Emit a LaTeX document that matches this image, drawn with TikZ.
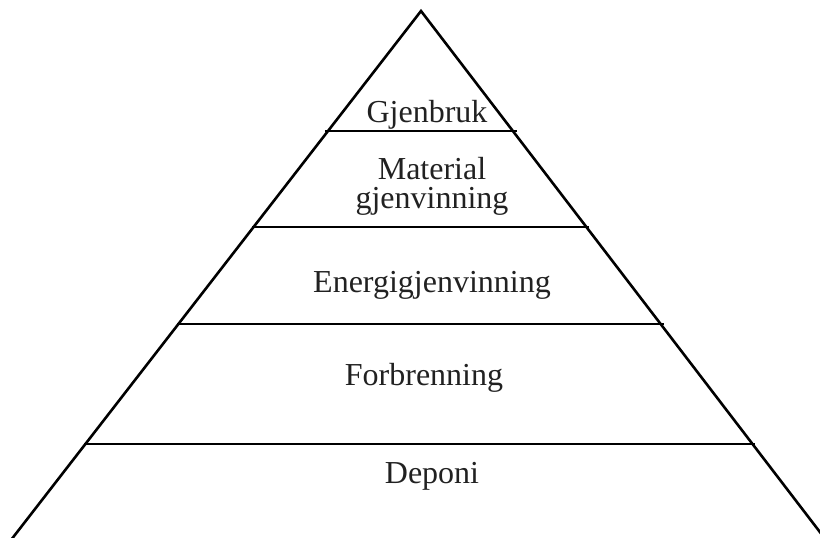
\documentclass[tikz,border=0pt]{standalone}
\usepackage{fontspec}
\setmainfont{Liberation Serif}
\begin{document}
\begin{tikzpicture}[x=1pt,y=-1pt,
  edge/.style={line width=2.6pt},
  tier/.style={line width=2.4pt},
  lbl/.style={anchor=base,font=\fontsize{32}{29}\selectfont,text=black!87,
    inner sep=0pt,text height=22pt,text depth=7pt}]
\useasboundingbox (0,0) rectangle (820,538);
\coordinate (apex) at (421,11);
\coordinate (bl) at (11,540);
\coordinate (br) at (826,540);
\draw[edge] (bl) -- (apex) -- (br);
\draw[tier] (325,131) -- (517,131);
\draw[tier] (252,227) -- (589,227);
\draw[tier] (177,324) -- (664,324);
\draw[tier] (84,444) -- (755,444);
\node[lbl] (gjenbruk) at (427,122) {Gjenbruk};
\node[lbl] (mat) at (432,179) {Material};
\node[lbl] (gjen) at (432,208) {gjenvinning};
\node[lbl] (energi) at (432,292) {Energigjenvinning};
\node[lbl] (forb) at (424,385) {Forbrenning};
\node[lbl] (dep) at (432,483) {Deponi};
\end{tikzpicture}
\end{document}
